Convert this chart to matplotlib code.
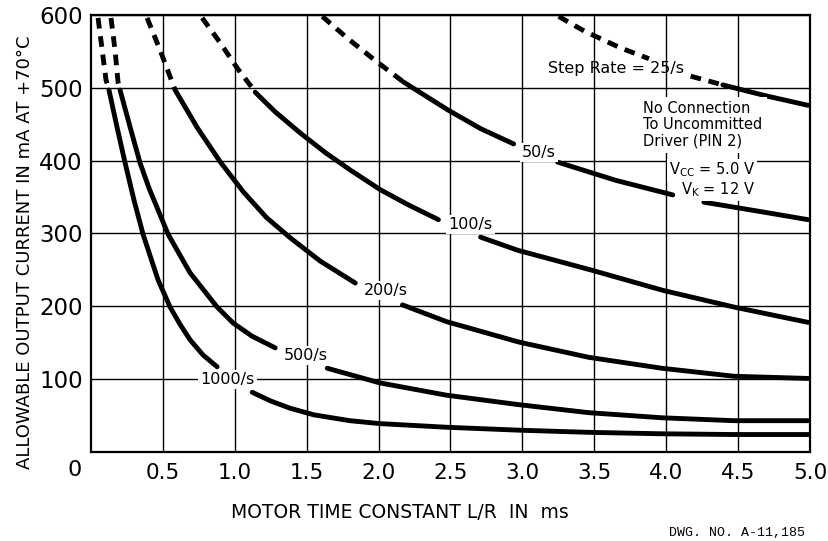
import numpy as np
import matplotlib
matplotlib.use("Agg")
import matplotlib.pyplot as plt
from matplotlib.transforms import offset_copy

nan = np.nan

# step rate curves: dashed (off-rating) part + solid part
# nan marks where the curve is broken for its label
x_1000_dash = [0.049, 0.077, 0.104, 0.125]
y_1000_dash = [596, 553, 511, 497]
x_1000 = [0.125, 0.181, 0.237, 0.30, 0.362, 0.42, 0.467, 0.55, 0.62, 0.689, 0.78, 0.877,
          nan, 1.121, 1.25, 1.386, 1.55, 1.80, 2.006, 2.47, 2.97, 3.46, 3.97, 4.47, 4.99]
y_1000 = [497, 446, 397, 345, 299, 264, 236, 199, 175, 154, 133, 117,
          nan, 82, 70, 60, 51, 43, 39, 34, 30, 27, 25, 24, 24]

x_500_dash = [0.139, 0.167, 0.188, 0.202]
y_500_dash = [596, 552, 508, 497]
x_500 = [0.202, 0.272, 0.341, 0.404, 0.467, 0.536, 0.689, 0.877, 0.989, 1.12, 1.281,
         nan, 1.643, 2.006, 2.472, 2.974, 3.461, 3.969, 4.471, 4.986]
y_500 = [497, 446, 397, 362, 332, 299, 246, 199, 177, 159, 143,
         nan, 115, 95, 78, 65, 54, 47, 43, 43]

x_200_dash = [0.39, 0.48, 0.564, 0.585]
y_200_dash = [596, 552, 508, 497]
x_200 = [0.585, 0.74, 0.90, 1.06, 1.22, 1.386, 1.595, 1.838,
         nan, 2.166, 2.472, 2.974, 3.461, 3.969, 4.471, 4.986]
y_200 = [497, 445, 398, 357, 322, 294, 262, 232,
         nan, 202, 179, 151, 130, 115, 104, 101]

x_100_dash = [0.773, 0.898, 1.017, 1.121, 1.142]
y_100_dash = [596, 562, 527, 500, 494]
x_100 = [1.142, 1.281, 1.455, 1.63, 1.804, 2.013, 2.2, 2.416,
         nan, 2.709, 2.967, 3.475, 3.976, 4.471, 4.986]
y_100 = [494, 467, 438, 411, 387, 360, 340, 319,
         nan, 295, 277, 250, 222, 199, 178]

x_50_dash = [1.609, 1.79, 1.98, 2.173]
y_50_dash = [598, 567, 537, 508]
x_50 = [2.173, 2.479, 2.709, 2.939,
        nan, 3.245, 3.649, 4.046,
        nan, 4.262, 4.659, 4.986]
y_50 = [508, 470, 444, 423,
        nan, 398, 373, 353,
        nan, 343, 330, 319]

x_25_dash = [3.252, 3.43, 3.68, 3.88, nan, 4.17, 4.394]
y_25_dash = [598, 578, 555, 540, nan, 516, 504]
x_25 = [4.394, 4.694, 4.986]
y_25 = [504, 489, 476]

# curve labels and their positions
rate_labels = ["1000/s", "500/s", "200/s", "100/s", "50/s"]
label_x = [0.95, 1.49, 2.054, 2.639, 3.113]
label_y = [99, 132, 222, 312, 411]

x_ticks = [0.5, 1.0, 1.5, 2.0, 2.5, 3.0, 3.5, 4.0, 4.5, 5.0]
x_tick_labels = ["0.5", "1.0", "1.5", "2.0", "2.5", "3.0", "3.5", "4.0", "4.5", "5.0"]
y_ticks = [100, 200, 300, 400, 500, 600]
y_tick_labels = ["100", "200", "300", "400", "500", "600"]

plt.rcParams['font.family'] = ['DejaVu Sans']

fig = plt.figure(figsize=(8.29, 5.41), dpi=100)
ax = fig.add_axes([91 / 829, 1 - 452 / 541, (810 - 91) / 829, (452 - 15) / 541])

lw = 3.5
dash = dict(color="black", lw=lw, linestyle=(0, (2.2, 1.6)), dash_capstyle="butt", zorder=3)
solid = dict(color="black", lw=lw, solid_capstyle="round", solid_joinstyle="round", zorder=3)

for xd, yd, xs, ys in [(x_1000_dash, y_1000_dash, x_1000, y_1000),
                       (x_500_dash, y_500_dash, x_500, y_500),
                       (x_200_dash, y_200_dash, x_200, y_200),
                       (x_100_dash, y_100_dash, x_100, y_100),
                       (x_50_dash, y_50_dash, x_50, y_50),
                       (x_25_dash, y_25_dash, x_25, y_25)]:
    ax.plot(xd, yd, **dash)
    ax.plot(xs, ys, **solid)

ax.set_xlim(0, 5.0)
ax.set_ylim(0, 600)
ax.set_xticks(x_ticks)
ax.set_xticklabels(x_tick_labels)
ax.set_yticks(y_ticks)
ax.set_yticklabels(y_tick_labels)
ax.tick_params(axis="both", length=0, labelsize=15.5)
ax.tick_params(axis="y", labelsize=16.5)
ax.tick_params(axis="x", pad=8)
ax.tick_params(axis="y", pad=6)
ax.grid(True, color="black", lw=1.0, zorder=1)
ax.set_axisbelow(True)
for s in ax.spines.values():
    s.set_linewidth(1.6)

# the lone "0" at the corner
ax.text(0, 0, "0", fontsize=16, ha="center", va="center",
        transform=offset_copy(ax.transAxes, fig=fig, x=-16, y=-18, units="dots"))

wbox = dict(facecolor="white", edgecolor="none", pad=1.5)
for txt, lx, ly in zip(rate_labels, label_x, label_y):
    ax.text(lx, ly, txt, fontsize=11.5, ha="center", va="center", bbox=wbox, zorder=4)

# this one sits right on the grid, no background
ax.text(3.649, 527, "Step Rate = 25/s", fontsize=11.5, ha="center", va="center", zorder=4)

ax.text(3.84, 482, "No Connection\nTo Uncommitted\nDriver (PIN 2)", fontsize=10.5,
        ha="left", va="top", linespacing=1.1, bbox=dict(facecolor="white", edgecolor="none", pad=3),
        zorder=4)
ax.text(4.32, 387, r"V$_{\mathregular{CC}}$ = 5.0 V", fontsize=10.5, ha="center", va="center",
        bbox=wbox, zorder=4)
ax.text(4.36, 360, r"V$_{\mathregular{K}}$ = 12 V", fontsize=10.5, ha="center", va="center",
        bbox=wbox, zorder=4)

fig.text(400 / 829, 1 - 513 / 541, "MOTOR TIME CONSTANT L/R  IN  ms", fontsize=13.5,
         ha="center", va="center")
fig.text(25 / 829, 1 - 252 / 541, "ALLOWABLE OUTPUT CURRENT IN mA AT +70°C", fontsize=13,
         ha="center", va="center", rotation=90)
fig.text(805 / 829, 1 - 533 / 541, "DWG. NO. A-11,185", fontsize=9.5, family="Liberation Mono",
         ha="right", va="center")

fig.savefig("out.png", dpi=100)
